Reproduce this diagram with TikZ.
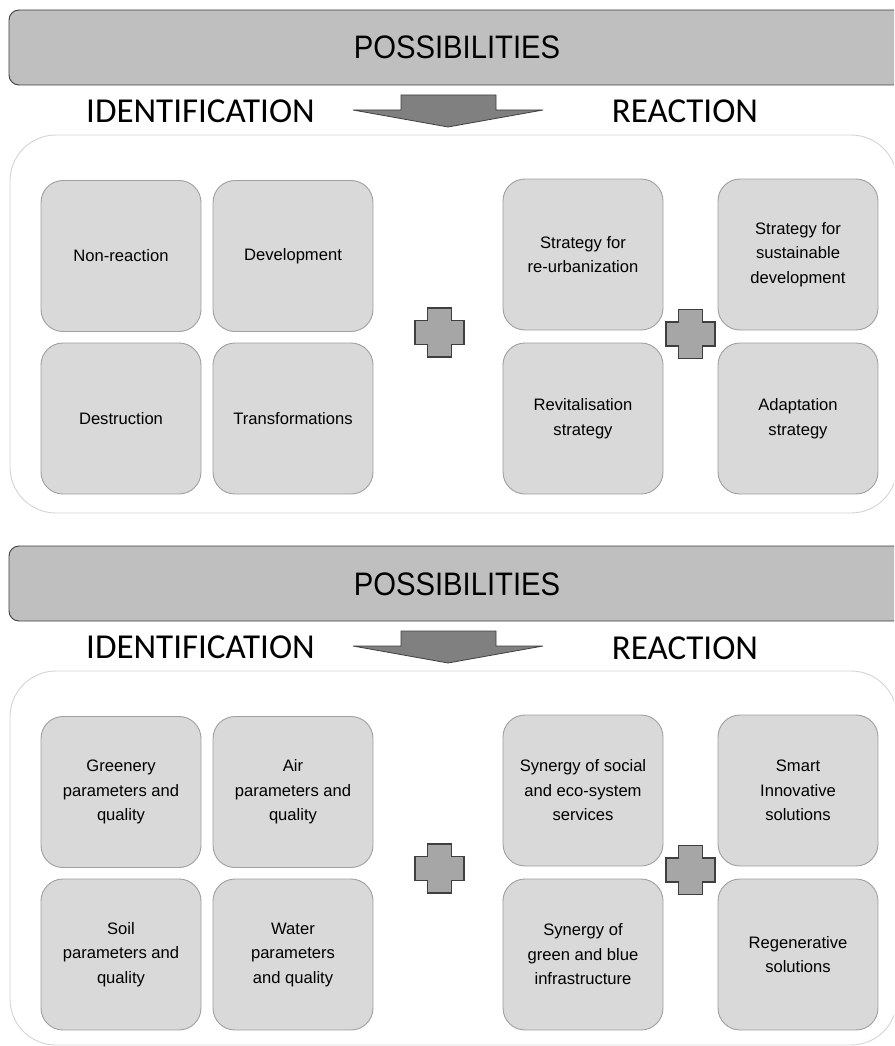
\documentclass[tikz,border=0pt]{standalone}
\usepackage{fontspec}
\setmainfont{Liberation Sans}
\newfontfamily\carl{Carlito}
\newfontfamily\narrowf[FakeStretch=0.9]{Liberation Sans}
\definecolor{bannerfill}{HTML}{BFBFBF}
\definecolor{darkedge}{HTML}{3F3F3F}
\definecolor{boxfill}{HTML}{D9D9D9}
\definecolor{boxedge}{HTML}{A0A0A0}
\definecolor{contedge}{HTML}{D4D4D4}
\definecolor{arrowfill}{HTML}{808080}
\definecolor{plusfill}{HTML}{A6A6A6}
\tikzset{
  banner/.style={fill=bannerfill,draw=darkedge,line width=0.9pt,rounded corners=10pt},
  container/.style={fill=white,draw=contedge,line width=0.9pt,rounded corners=46pt},
  cell/.style={fill=boxfill,draw=boxedge,line width=0.9pt,rounded corners=22pt,
    minimum width=160pt,minimum height=151pt,inner sep=0pt,align=center,
    font=\fontsize{16.6}{24.5}\selectfont},
  titletext/.style={anchor=base,inner sep=0pt,font=\narrowf\fontsize{32.5}{36}\selectfont},
  headtext/.style={anchor=base,inner sep=0pt,font=\carl\fontsize{35}{40}\selectfont},
  downarrow/.style={fill=arrowfill,draw=darkedge,line width=0.8pt,line join=miter},
  plusstyle/.style={fill=plusfill,draw=darkedge,line width=1.2pt},
  plussign/.pic={\draw[plusstyle] (-12,-24.5) -- (12,-24.5) -- (12,-12) -- (24.5,-12) -- (24.5,12) -- (12,12) -- (12,24.5) -- (-12,24.5) -- (-12,12) -- (-24.5,12) -- (-24.5,-12) -- (-12,-12) -- cycle;}
}
\begin{document}
\begin{tikzpicture}[x=1pt,y=-1pt]
\useasboundingbox (0,0) rectangle (894,1046);
\clip (0,0) rectangle (894,1046);
% ---------- panel 1 ----------
\draw[banner] (9,10) rectangle (912,85);
\node[titletext] (t1) at (457,59) {POSSIBILITIES};
\node[headtext] (id1) at (200.5,122) {IDENTIFICATION};
\node[headtext] (re1) at (685,123) {REACTION};
\draw[downarrow] (401,95) -- (496,95) -- (496,110) -- (543,110) -- (448,127) -- (353,110) -- (401,110) -- cycle;
\draw[container] (10,135) rectangle (897,513);
\node[cell] (a1) at (121,256) {Non-reaction};
\node[cell] (a2) at (293,256) {Development};
\node[cell] (a3) at (121,418.5) {Destruction};
\node[cell] (a4) at (293,418.5) {Transformations};
\node[cell] (a5) at (583,254.5) {Strategy for\\re-urbanization};
\node[cell] (a6) at (798,254.5) {Strategy for\\sustainable\\development};
\node[cell] (a7) at (583,418.5) {Revitalisation\\strategy};
\node[cell] (a8) at (798,418.5) {Adaptation\\strategy};
\pic at (439.5,332.5) {plussign};
\pic at (690.5,334) {plussign};
% ---------- panel 2 ----------
\draw[banner] (9,546) rectangle (912,621);
\node[titletext] (t2) at (457,595) {POSSIBILITIES};
\node[headtext] (id2) at (200.5,658) {IDENTIFICATION};
\node[headtext] (re2) at (685,659) {REACTION};
\draw[downarrow] (401,631) -- (496,631) -- (496,646) -- (543,646) -- (448,663) -- (353,646) -- (401,646) -- cycle;
\draw[container] (10,671) rectangle (897,1045);
\node[cell] (b1) at (121,792) {Greenery\\parameters and\\quality};
\node[cell] (b2) at (293,792) {Air\\parameters and\\quality};
\node[cell] (b3) at (121,954.5) {Soil\\parameters and\\quality};
\node[cell] (b4) at (293,954.5) {Water\\parameters\\and quality};
\node[cell] (b5) at (583,790.5) {Synergy of social\\and eco-system\\services};
\node[cell] (b6) at (798,790.5) {Smart\\Innovative\\solutions};
\node[cell] (b7) at (583,954.5) {Synergy of\\green and blue\\infrastructure};
\node[cell] (b8) at (798,954.5) {Regenerative\\solutions};
\pic at (439.5,868.5) {plussign};
\pic at (690.5,870) {plussign};
\end{tikzpicture}
\end{document}
